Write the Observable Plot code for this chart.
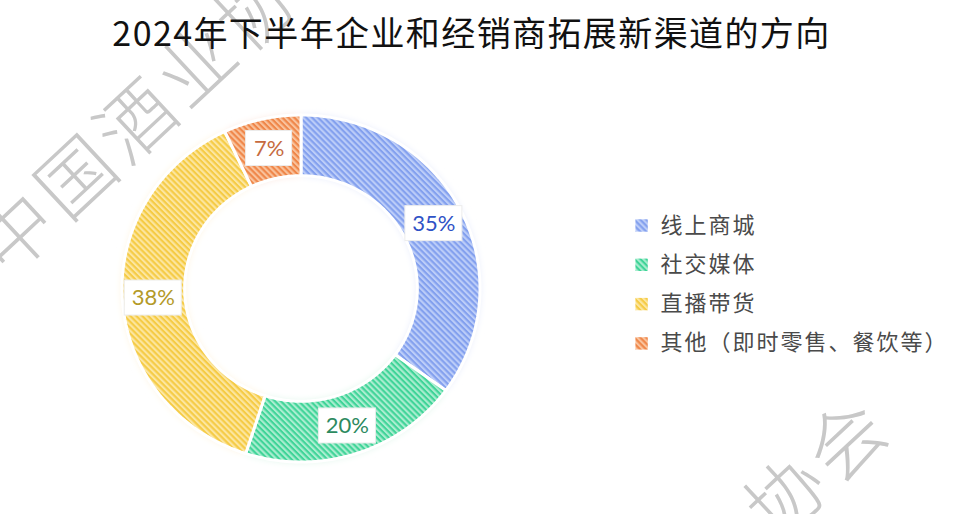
<!DOCTYPE html>
<html><head><meta charset="utf-8">
<script src="https://cdn.jsdelivr.net/npm/d3@7"></script>
<script src="https://cdn.jsdelivr.net/npm/@observablehq/plot@0.6"></script>
<style>
body{margin:0;background:#fff}
svg{display:block}
</style>
</head><body><div id="chart"></div>
<script>
// ---- data ----
const title = "2024年下半年企业和经销商拓展新渠道的方向";
const categories = ["线上商城", "社交媒体", "直播带货", "其他（即时零售、餐饮等）"];
const values = [35, 20, 38, 7];
const valueLabels = ["35%", "20%", "38%", "7%"];
const watermark = "中国酒业协会";

// ---- styles ----
const stripeDark = ["#83a0ee", "#3fd498", "#f5cb45", "#ef8648"];
const stripeLight = ["#bccdf8", "#aaedd0", "#fce6a0", "#f9c29c"];
const labelInk = ["#2f52c6", "#2c8a60", "#b39a28", "#c66a3e"];
const patternIds = categories.map((_, i) => `url(#stripe-${i})`);

// ---- derived geometry (unit circle) ----
const R1 = 1, R0 = 0.65, RL = 0.83;
const pie = d3.pie().sort(null).value(d => d)(values);
const ring = pie.flatMap((p, i) =>
  d3.range(0, 81).map(k => {
    const a = p.startAngle + (p.endAngle - p.startAngle) * k / 80;
    return {name: categories[i], ox: R1 * Math.sin(a), oy: R1 * Math.cos(a), ix: R0 * Math.sin(a), iy: R0 * Math.cos(a)};
  })
);
const pxX = 179, pxY = 173.5; // pixels per unit on each axis
const labelData = pie.map((p, i) => {
  const a = (p.startAngle + p.endAngle) / 2;
  const w = valueLabels[i].length * 11 + 24, h = 35;
  const x = RL * Math.sin(a), y = RL * Math.cos(a);
  return {i, text: valueLabels[i], x, y,
    x1: x - w / 2 / pxX, x2: x + w / 2 / pxX, y1: y - h / 2 / pxY, y2: y + h / 2 / pxY};
});
const legendRows = categories.map((name, i) => ({name, y: 0.366 - i * 0.2265}));

const cjk = "'Noto Sans CJK SC', 'Noto Sans', sans-serif";

const svg = Plot.plot({
  width: 960,
  height: 514,
  margin: 0,
  x: {domain: [-1, 1], range: [122, 480], axis: null},
  y: {domain: [-1, 1], range: [462, 115], axis: null},
  color: {type: "ordinal", domain: categories, range: patternIds},
  marks: [
    Plot.text([watermark], {frameAnchor: "top-left", dx: -10, dy: 261, rotate: -43, textAnchor: "start", lineAnchor: "middle",
      fontSize: 76, fontFamily: cjk, fontWeight: 300, fill: "#c8c8c8", text: d => d}),
    Plot.text([watermark], {frameAnchor: "top-left", dx: 520, dy: 748, rotate: -43, textAnchor: "start", lineAnchor: "middle",
      fontSize: 76, fontFamily: cjk, fontWeight: 300, fill: "#c8c8c8", text: d => d}),
    Plot.text([title], {frameAnchor: "top", dx: -9, dy: 35, lineAnchor: "middle", fontSize: 34, fontFamily: cjk,
      fill: "#111", text: d => d}),
    Plot.area(ring, {x1: "ox", y1: "oy", x2: "ix", y2: "iy", z: "name", fill: "name", stroke: "white", strokeWidth: 3}),
    Plot.rect(labelData, {x1: "x1", x2: "x2", y1: "y1", y2: "y2", fill: "white", stroke: "#ececec", strokeWidth: 1}),
    ...labelData.map(d => Plot.text([d], {x: "x", y: "y", text: "text", fontSize: 22, fontFamily: "Lato, 'Open Sans', sans-serif",
      fill: labelInk[d.i]})),
    Plot.dot(legendRows, {x: () => 1.9, y: "y", symbol: "square", r: 7, fill: "name"}),
    Plot.text(legendRows, {x: () => 2.006, y: "y", text: "name", textAnchor: "start", fontSize: 22, fontFamily: cjk, fill: "#4a4a4a"})
  ]
});

// pattern + glow definitions
const P = 4.2;
const defs = categories.map((_, i) => `
  <pattern id="stripe-${i}" patternUnits="userSpaceOnUse" width="${P}" height="${P}" patternTransform="rotate(45)">
    <rect width="${P}" height="${P}" fill="${stripeLight[i]}"/>
    <rect width="${P}" height="${P / 2}" fill="${stripeDark[i]}"/>
  </pattern>`).join("") + `
  <filter id="glow" x="-15%" y="-15%" width="130%" height="130%">
    <feGaussianBlur in="SourceGraphic" stdDeviation="4" result="b"/>
    <feComponentTransfer in="b" result="b2"><feFuncA type="linear" slope="0.5"/></feComponentTransfer>
    <feMerge><feMergeNode in="b2"/><feMergeNode in="SourceGraphic"/></feMerge>
  </filter>`;
d3.select(svg).insert("defs", ":first-child").html(defs);
d3.select(svg).selectAll('g[aria-label="area"]').attr("filter", "url(#glow)");
const textGroups = d3.select(svg).selectAll('g[aria-label="text"]');
textGroups.filter((d, i) => i < 2).style("letter-spacing", "6px");
textGroups.filter((d, i) => i === 2).style("letter-spacing", "1.4px");
textGroups.filter((d, i, n) => i === n.length - 1).style("letter-spacing", "2px");
document.getElementById("chart").appendChild(svg);
</script>
</body></html>
